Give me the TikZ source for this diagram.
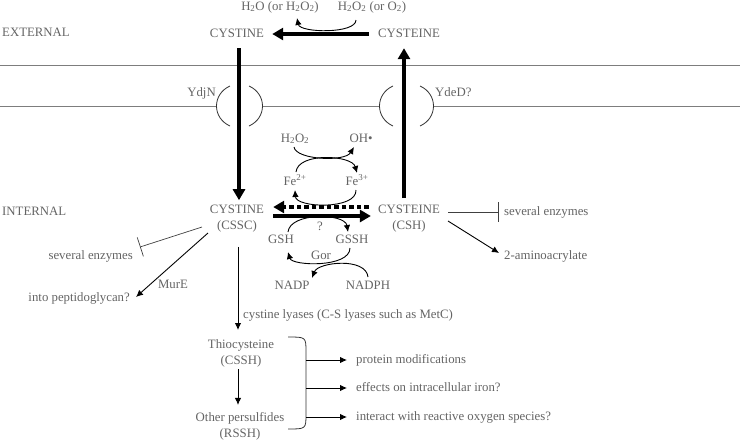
\documentclass[tikz,border=0pt]{standalone}
\usepackage{fontspec}
\setmainfont{Liberation Serif}
\usetikzlibrary{arrows.meta,calc}
\definecolor{txt}{RGB}{100,100,100}
\definecolor{mem}{RGB}{125,125,125}
\begin{document}
\begin{tikzpicture}[x=1pt,y=-1pt,
  lbl/.style={text=txt,inner sep=0pt,font=\fontsize{12.8}{16}\selectfont,text height=9pt,text depth=3pt},
  lbltwo/.style={text=txt,inner sep=0pt,font=\fontsize{12.8}{16}\selectfont,align=center},
  bigarrow/.style={line width=3.6pt,-{Triangle[length=11pt,width=12pt]}},
  dasharrow/.style={line width=3.6pt,dash pattern=on 4.5pt off 3pt,-{Triangle[length=11pt,width=12pt]}},
  rxn/.style={line width=0.9pt,-{Latex[length=7pt,width=6.5pt]}},
  inhib/.style={line width=0.7pt,draw=black!75,-{Bar[width=20pt,line width=0.7pt]}},
  memline/.style={draw=mem,line width=0.9pt},
  paren/.style={draw=black!80,line width=0.8pt}
]
\useasboundingbox (0,0) rectangle (740,440);

% membrane
\draw[memline] (0,65) -- (740,65);
\draw[memline] (0,106) -- (217,106);
\draw[memline] (262,106) -- (380,106);
\draw[memline] (433,106) -- (740,106);
\draw[paren] (230,86) .. controls (212,94) and (212,118) .. (230,126);
\draw[paren] (249,86) .. controls (267,94) and (267,118) .. (249,126);
\draw[paren] (393,86) .. controls (375,94) and (375,118) .. (393,126);
\draw[paren] (420,86) .. controls (438,94) and (438,118) .. (420,126);

% labels
\node[lbl,anchor=west] (ext) at (2,33) {EXTERNAL};
\node[lbl] (h2oA) at (280,7) {H\textsubscript{2}O (or H\textsubscript{2}O\textsubscript{2})};
\node[lbl] (h2o2A) at (372,7) {H\textsubscript{2}O\textsubscript{2} (or O\textsubscript{2})};
\node[lbl] (cysTop) at (237,34) {CYSTINE};
\node[lbl] (cyeTop) at (409,34) {CYSTEINE};
\node[lbl,anchor=east] (ydjn) at (216,93) {YdjN};
\node[lbl,anchor=west] (yded) at (435,93) {YdeD?};
\node[lbl] (h2o2) at (295,139) {H\textsubscript{2}O\textsubscript{2}};
\node[lbl] (ohr) at (361,139) {OH\textbullet};
\node[lbl] (fe2) at (295,182) {Fe\textsuperscript{2+}};
\node[lbl] (fe3) at (357,182) {Fe\textsuperscript{3+}};
\node[lbl,anchor=west] (int) at (2,212) {INTERNAL};
\node[lbltwo] (cssc) at (237,219) {CYSTINE\\(CSSC)};
\node[lbltwo] (csh) at (409,219) {CYSTEINE\\(CSH)};
\node[lbl] (q) at (320,227) {?};
\node[lbl] (gsh) at (281,240) {GSH};
\node[lbl] (gssh) at (352,240) {GSSH};
\node[lbl] (gor) at (321,256) {Gor};
\node[lbl] (nadp) at (292,286) {NADP};
\node[lbl] (nadph) at (368,286) {NADPH};
\node[lbl,anchor=east] (sevL) at (133,256) {several enzymes};
\node[lbl] (mure) at (173,285) {MurE};
\node[lbl,anchor=east] (pep) at (130,298) {into peptidoglycan?};
\node[lbl,anchor=west] (sevR) at (504,212) {several enzymes};
\node[lbl,anchor=west] (amino) at (504,256) {2-aminoacrylate};
\node[lbl,anchor=west] (lyase) at (243,315) {cystine lyases (C-S lyases such as MetC)};
\node[lbltwo] (thio) at (241,353) {Thiocysteine\\(CSSH)};
\node[lbltwo] (rssh) at (240,426) {Other persulfides\\(RSSH)};
\node[lbl,anchor=west] (prot) at (356,360) {protein modifications};
\node[lbl,anchor=west] (iron) at (356,388) {effects on intracellular iron?};
\node[lbl,anchor=west] (ros) at (356,417) {interact with reactive oxygen species?};

% thick transport / oxidation arrows
\draw[bigarrow] ($(cyeTop.west)+(-9,0)$) -- ($(cysTop.east)+(8,0)$);
\draw[bigarrow] ($(cysTop.south)+(2,8)$) -- ($(cssc.north)+(2,-5)$);
\draw[bigarrow] ($(csh.north)+(-5,-7)$) -- ($(cyeTop.south)+(-5,8)$);
\draw[dasharrow] ($(csh.west)+(-9,-12)$) -- ($(cssc.east)+(9,-12)$);
\draw[bigarrow] ($(cssc.east)+(9,-3)$) -- ($(csh.west)+(-7,-3)$);

% curved reaction arrows
\draw[rxn] ($(h2o2A)+(-16,13)$) .. controls +(0,14) and +(3,15) .. ($(h2oA)+(17,11)$);
\draw[rxn] ($(h2o2)+(-1,8)$) .. controls +(2,13) and +(-9,15) .. ($(ohr)+(-7,8)$);
\draw[rxn] ($(fe2)+(1,-10)$) .. controls +(2,-20) and +(-5,-18) .. ($(fe3)+(0,-9)$);
\draw[rxn] ($(fe3)+(-1,8)$) .. controls +(1,20) and +(1,18) .. ($(fe2)+(0,8)$);
\draw[rxn] ($(gsh)+(7,-8)$) .. controls +(2,-20) and +(-3,-19) .. ($(gssh)+(-4,-8)$);
\draw[rxn] ($(gssh)+(-2,8)$) .. controls +(0,20) and +(4,14) .. ($(gsh)+(7,12)$);
\draw[rxn] ($(nadph)+(0,-9)$) .. controls +(-2,-20) and +(6,-16) .. ($(nadp)+(20,-8)$);

% side branches
\draw[inhib] ($(cssc)+(-35,8)$) -- ($(sevL.east)+(7,-9)$);
\draw[rxn] ($(cssc)+(-29,14)$) -- ($(pep.east)+(6,-1)$);
\draw[inhib] ($(csh)+(39,-7)$) -- ($(sevR.west)+(-5,0)$);
\draw[rxn] ($(csh)+(39,2)$) -- ($(amino.west)+(-5,-3)$);
\draw[rxn] ($(cssc.south)+(1,14)$) -- ($(thio.north)+(-3,-9)$);
\draw[rxn] ($(thio.south)+(-3,2)$) -- ($(rssh.north)+(-2,-7)$);

% bracket and outcomes
\draw[line width=0.8pt,draw=black!80] (288,337) .. controls (306,337) .. (306,352) -- (306,414) .. controls (306,429) .. (288,429);
\coordinate (b1) at (306,360);
\coordinate (b2) at (306,388);
\coordinate (b3) at (306,417);
\draw[rxn] (b1) -- ($(prot.west)+(-9,0)$);
\draw[rxn] (b2) -- ($(iron.west)+(-9,0)$);
\draw[rxn] (b3) -- ($(ros.west)+(-9,0)$);
\end{tikzpicture}
\end{document}
